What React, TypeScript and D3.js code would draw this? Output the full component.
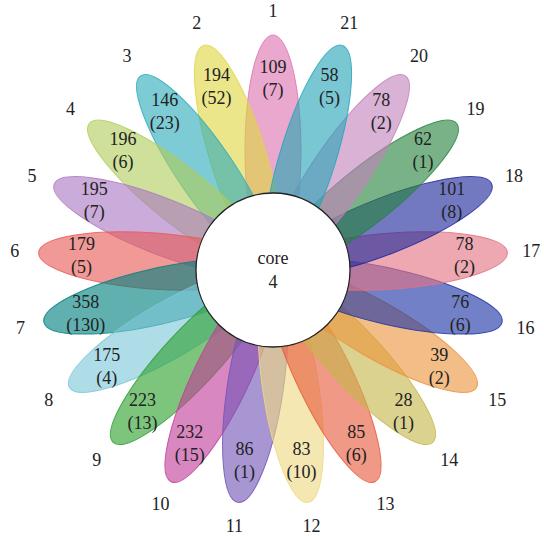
import React from "react";
import * as d3 from "d3";

// Set names, unique counts and (secondary counts) per petal
const setNames = ["1","2","3","4","5","6","7","8","9","10","11","12","13","14","15","16","17","18","19","20","21"];
const uniqueCounts = [109,194,146,196,195,179,358,175,223,232,86,83,85,28,39,76,78,101,62,78,58];
const subCounts = [7,52,23,6,7,5,130,4,13,15,1,10,6,1,2,6,2,8,1,2,5];
const coreLabel = "core";
const coreCount = 4;

const petalColors = [
  "#de72b0","#ded641","#2dabbc","#b0cd5b","#ab77c2","#e75b55","#008080",
  "#7dc7d8","#2d9f2d","#c23e9a","#7255b6","#efd883","#e75b3e","#c7b64a",
  "#ea943e","#1c33a5","#e47283","#1c279a","#27833e","#c283bc","#27a5b6",
];

const W = 544;
const H = 536;
const cx = 273;
const cy = 270;
const coreR = 77;
const petalOffset = 120;
const petalRx = 28;
const petalRy = 115;
const labelR = 192;
const nameR = 259;
const fontFamily = "Liberation Serif, DejaVu Serif, Times New Roman, serif";

export default function App() {
  const n = setNames.length;
  // angle measured counter-clockwise from straight up, in degrees
  const angle = d3.scaleLinear().domain([0, n]).range([0, 360]);
  const color = d3.scaleOrdinal<string, string>().domain(setNames).range(petalColors);

  const dir = (i: number, r: number) => {
    const t = (angle(i) * Math.PI) / 180;
    return [cx - Math.sin(t) * r, cy - Math.cos(t) * r];
  };

  return (
    <svg
      width={W}
      height={H}
      style={{ position: "absolute", left: 0, top: 0, background: "#fff" }}
    >
      <g>
        {setNames.map((name, i) => (
          <ellipse
            key={name}
            cx={0}
            cy={-petalOffset}
            rx={petalRx}
            ry={petalRy}
            transform={`translate(${cx},${cy}) rotate(${-angle(i)})`}
            fill={color(name)}
            fillOpacity={0.62}
            stroke={color(name)}
            strokeOpacity={0.85}
            strokeWidth={1}
          />
        ))}
      </g>
      <circle cx={cx} cy={cy} r={coreR} fill="#fff" stroke="#222" strokeWidth={1.3} />
      <g fontFamily={fontFamily} fontSize={18} fill="#222" textAnchor="middle">
        <text x={cx} y={cy - 12} dy="0.35em">{coreLabel}</text>
        <text x={cx} y={cy + 12} dy="0.35em">{coreCount}</text>
        {setNames.map((name, i) => {
          const [lx, ly] = dir(i, labelR);
          const [nx, ny] = dir(i, nameR);
          return (
            <g key={"l" + name}>
              <text x={lx} y={ly - 11.5} dy="0.35em">{uniqueCounts[i]}</text>
              <text x={lx} y={ly + 11.5} dy="0.35em">({subCounts[i]})</text>
              <text x={nx} y={ny} dy="0.35em">{name}</text>
            </g>
          );
        })}
      </g>
    </svg>
  );
}
